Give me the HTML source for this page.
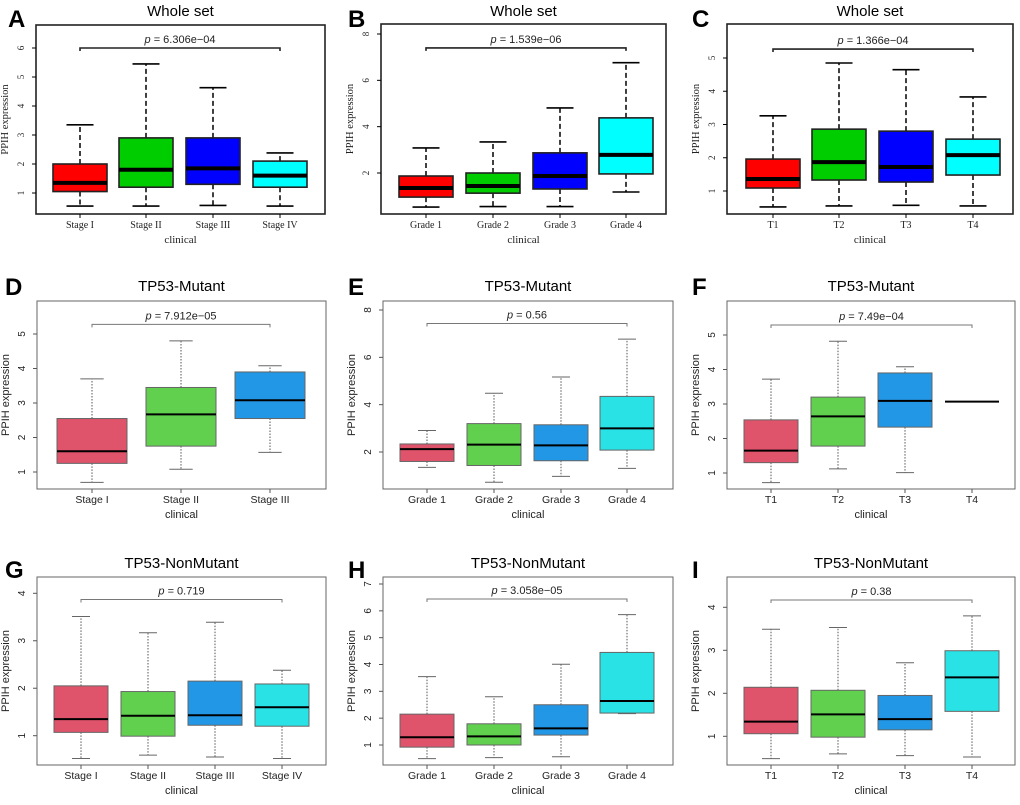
<!DOCTYPE html>
<html><head><meta charset="utf-8"><style>
html,body{margin:0;padding:0;background:#fff;}
svg{display:block}
</style></head><body>
<svg id="fig" width="1020" height="805" viewBox="0 0 1020 805" xmlns="http://www.w3.org/2000/svg"></svg>
<script>
// ---- data: categories ----
const catsStage4 = ["Stage I","Stage II","Stage III","Stage IV"];
const catsStage3 = ["Stage I","Stage II","Stage III"];
const catsGrade = ["Grade 1","Grade 2","Grade 3","Grade 4"];
const catsT = ["T1","T2","T3","T4"];
// ---- data: box stats [min,q1,median,q3,max] ----
const statsA = [[0.55,1.05,1.35,2.0,3.35],[0.55,1.2,1.8,2.9,5.45],[0.57,1.3,1.85,2.9,4.63],[0.55,1.2,1.6,2.1,2.38]];
const statsB = [[0.53,0.96,1.35,1.87,3.08],[0.55,1.13,1.44,2.0,3.34],[0.55,1.31,1.87,2.87,4.81],[1.18,1.96,2.78,4.38,6.76]];
const statsC = [[0.52,1.09,1.36,1.96,3.26],[0.55,1.33,1.87,2.86,4.85],[0.57,1.27,1.72,2.8,4.65],[0.55,1.48,2.08,2.56,3.83]];
const statsD = [[0.7,1.25,1.6,2.55,3.7],[1.08,1.75,2.67,3.45,4.8],[1.57,2.55,3.08,3.9,4.08]];
const statsE = [[1.35,1.6,2.12,2.34,2.91],[0.72,1.43,2.31,3.2,4.48],[0.97,1.63,2.28,3.15,5.17],[1.31,2.08,3.0,4.35,6.77]];
const statsF = [[0.72,1.3,1.65,2.54,3.72],[1.12,1.78,2.64,3.2,4.82],[1.01,2.33,3.09,3.9,4.08],[3.07,3.07,3.07,3.07,3.07]];
const statsG = [[0.52,1.07,1.35,2.05,3.51],[0.59,0.99,1.42,1.93,3.17],[0.55,1.22,1.43,2.15,3.39],[0.52,1.2,1.6,2.09,2.38]];
const statsH = [[0.49,0.92,1.29,2.15,3.55],[0.53,1.0,1.32,1.79,2.8],[0.56,1.37,1.62,2.5,4.01],[2.17,2.19,2.64,4.45,5.86]];
const statsI = [[0.48,1.06,1.34,2.14,3.49],[0.59,0.98,1.51,2.07,3.53],[0.55,1.15,1.40,1.95,2.71],[0.52,1.58,2.37,2.99,3.80]];
// ---- tick labels ----
const ticksA = [1,2,3,4,5,6];
const ticksB = [2,4,6,8];
const ticksC = [1,2,3,4,5];
const ticksD = [1,2,3,4,5];
const ticksE = [2,4,6,8];
const ticksF = [1,2,3,4,5];
const ticksG = [1,2,3,4];
const ticksH = [1,2,3,4,5,6,7];
const ticksI = [1,2,3,4];
// ---- p-values and bracket heights ----
const pTexts = ["6.306e\u221204","1.539e\u221206","1.366e\u221204","7.912e\u221205","0.56","7.49e\u221204","0.719","3.058e\u221205","0.38"];
const bracketY = [6.0,7.4,5.27,5.28,7.43,5.29,3.87,6.44,4.17];

const NS="http://www.w3.org/2000/svg";
const svg=document.getElementById('fig');
function mk(tag,attrs,parent){const e=document.createElementNS(NS,tag);for(const k in attrs)e.setAttribute(k,attrs[k]);(parent||svg).appendChild(e);return e;}

const oldCols=["#ff0000","#00cd00","#0000ff","#00ffff"];
const newCols=["#DF536B","#61D04F","#2297E6","#28E2E5"];

const panels=[
 {id:"a",letter:"A",title:"Whole set",cats:catsStage4,stats:statsA,ticks:ticksA,old:true,x0:36,x1:325,y0:25,y1:214,v0:1,p0:193,v1:6,p1:48,cx:[80,146,213,280],hw:27,lx:8,ly:27,ty:16},
 {id:"b",letter:"B",title:"Whole set",cats:catsGrade,stats:statsB,ticks:ticksB,old:true,x0:381,x1:666,y0:24,y1:214,v0:2,p0:173,v1:8,p1:34,cx:[426,493,560,626],hw:27,lx:348,ly:27,ty:16},
 {id:"c",letter:"C",title:"Whole set",cats:catsT,stats:statsC,ticks:ticksC,old:true,x0:727,x1:1013,y0:24,y1:214,v0:1,p0:191,v1:5,p1:58,cx:[773,839,906,973],hw:27,lx:692,ly:27,ty:16},
 {id:"d",letter:"D",title:"TP53-Mutant",cats:catsStage3,stats:statsD,ticks:ticksD,old:false,x0:37,x1:326,y0:301,y1:489,v0:1,p0:472,v1:5,p1:334,cx:[92,181,270],hw:35,lx:5,ly:295,ty:291},
 {id:"e",letter:"E",title:"TP53-Mutant",cats:catsGrade,stats:statsE,ticks:ticksE,old:false,x0:383,x1:673,y0:301,y1:489,v0:2,p0:452,v1:8,p1:310,cx:[427,494,561,627],hw:27,lx:348,ly:295,ty:291},
 {id:"f",letter:"F",title:"TP53-Mutant",cats:catsT,stats:statsF,ticks:ticksF,old:false,x0:727,x1:1015,y0:301,y1:489,v0:1,p0:473,v1:5,p1:335,cx:[771,838,905,972],hw:27,lx:692,ly:295,ty:291},
 {id:"g",letter:"G",title:"TP53-NonMutant",cats:catsStage4,stats:statsG,ticks:ticksG,old:false,x0:37,x1:326,y0:577,y1:765,v0:1,p0:735.7,v1:4,p1:593.3,cx:[81,148,215,282],hw:27,lx:5,ly:578,ty:568},
 {id:"h",letter:"H",title:"TP53-NonMutant",cats:catsGrade,stats:statsH,ticks:ticksH,old:false,x0:383,x1:673,y0:577,y1:765,v0:1,p0:745,v1:7,p1:584,cx:[427,494,561,627],hw:27,lx:348,ly:578,ty:568},
 {id:"i",letter:"I",title:"TP53-NonMutant",cats:catsT,stats:statsI,ticks:ticksI,old:false,x0:727,x1:1015,y0:577,y1:765,v0:1,p0:736.3,v1:4,p1:607.3,cx:[771,838,905,972],hw:27,lx:692,ly:578,ty:568}
];

panels.forEach((P,pi)=>{
 const g=mk('g',{});
 
 
 const yS=v=>P.p0+(v-P.v0)*(P.p1-P.p0)/(P.v1-P.v0);
 const ff=P.old?'"Liberation Serif", serif':'"Liberation Sans", sans-serif';
 const axCol=P.old?'#000':'#555';
 const L=mk('text',{x:P.lx,y:P.ly,'font-family':'"Liberation Sans", sans-serif','font-weight':'bold','font-size':24,fill:'#000'},g);
 L.textContent=P.letter;
 
 
 const T=mk('text',{x:(P.x0+P.x1)/2,y:P.ty,'text-anchor':'middle','font-family':'"Liberation Sans", sans-serif','font-size':15,fill:'#000'},g);
 T.textContent=P.title;
 
 
 const F=mk('rect',{x:P.x0,y:P.y0,width:P.x1-P.x0,height:P.y1-P.y0,fill:'none',stroke:P.old?'#222':'#666','stroke-width':P.old?1.6:1},g);
 
 
 P.ticks.forEach(t=>{
  const y=yS(t);
  const tk=mk('line',{x1:P.x0,x2:P.x0-4,y1:y,y2:y,stroke:axCol,'stroke-width':1},g);
  
  
  const tx=mk('text',{x:0,y:0,transform:`translate(${P.x0-12},${y}) rotate(-90)`,'text-anchor':'middle','font-family':ff,'font-size':P.old?9:10,fill:'#222'},g);
  tx.textContent=t;
  
  
 });
 const yl=mk('text',{x:0,y:0,transform:`translate(${P.x0-28},${(P.y0+P.y1)/2}) rotate(-90)`,'text-anchor':'middle','font-family':ff,'font-size':P.old?10.5:11,fill:'#222'},g);
 yl.textContent='PPIH expression';
 
 
 const xl=mk('text',{x:(P.x0+P.x1)/2,y:P.y1+29,'text-anchor':'middle','font-family':ff,'font-size':11,fill:'#222'},g);
 xl.textContent='clinical';
 
 
 P.stats.forEach((s,i)=>{
  const cx=P.cx[i],hw=P.hw,ch=P.old?hw/2:hw/3;
  const col=P.old?oldCols[i]:newCols[i];
  const bg=mk('g',{},g);
  
  
  const wst=P.old?{stroke:'#000','stroke-width':1.5,'stroke-dasharray':'5,3'}:{stroke:'#555','stroke-width':1,'stroke-dasharray':'1.5,1.5'};
  const cst=P.old?{stroke:'#000','stroke-width':1.6}:{stroke:'#666','stroke-width':1};
  if(s[0]!==s[4]){
   mk('line',Object.assign({x1:cx,x2:cx,y1:yS(s[3]),y2:yS(s[4])},wst),bg);
   mk('line',Object.assign({x1:cx,x2:cx,y1:yS(s[1]),y2:yS(s[0])},wst),bg);
   mk('line',Object.assign({x1:cx-ch,x2:cx+ch,y1:yS(s[4]),y2:yS(s[4])},cst),bg);
   mk('line',Object.assign({x1:cx-ch,x2:cx+ch,y1:yS(s[0]),y2:yS(s[0])},cst),bg);
  }
  if(s[1]!==s[3]) mk('rect',{x:cx-hw,y:yS(s[3]),width:2*hw,height:yS(s[1])-yS(s[3]),fill:col,stroke:P.old?'#222':'#666','stroke-width':P.old?1.6:1},bg);
  mk('line',{x1:cx-hw,x2:cx+hw,y1:yS(s[2]),y2:yS(s[2]),stroke:'#000','stroke-width':P.old?4:2},bg);
  const cl=mk('text',{x:cx,y:P.y1+14,'text-anchor':'middle','font-family':ff,'font-size':P.old?10:10.5,fill:'#222'},g);
  cl.textContent=P.cats[i];
  
  
  const xt=mk('line',{x1:cx,x2:cx,y1:P.y1,y2:P.y1+4,stroke:axCol,'stroke-width':1},g);
  
  
 });
 const by=yS(bracketY[pi]);
 const xa=P.cx[0],xb=P.cx[P.cx.length-1];
 const br=mk('path',{d:`M${xa},${by+3}V${by}H${xb}V${by+3}`,fill:'none',stroke:P.old?'#222':'#777','stroke-width':P.old?1.6:1},g);
 
 
 const pt=mk('text',{x:(xa+xb)/2,y:by-5,'text-anchor':'middle','font-family':'"Liberation Sans", sans-serif','font-size':11,fill:'#222'},g);
 const it=mk('tspan',{'font-style':'italic'},pt); it.textContent='p';
 const rs=mk('tspan',{},pt); rs.textContent=' = '+pTexts[pi];
 
 
});
</script>
</body></html>
